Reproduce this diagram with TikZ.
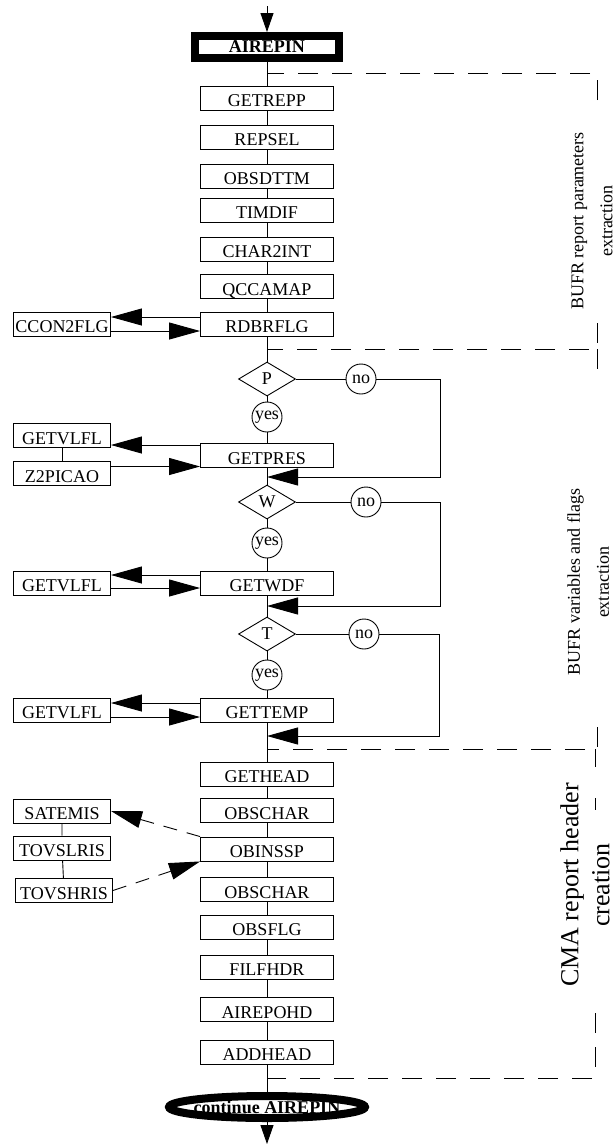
\documentclass[tikz,border=0pt]{standalone}
\usepackage{fontspec}
\setmainfont{Liberation Serif}
\usetikzlibrary{arrows.meta,shapes.geometric}
\tikzset{proc/.style={draw,fill=white,minimum width=133pt,minimum height=24pt,inner sep=0pt,text height=17pt,text depth=0pt},}
\tikzset{side/.style={proc,minimum width=97pt},}
\tikzset{test/.style={draw,fill=white,diamond,minimum width=57pt,minimum height=34pt,inner sep=0pt},}
\tikzset{ans/.style={draw,fill=white,circle,minimum size=30pt,inner sep=0pt},}
\tikzset{term/.style={draw,line width=8pt,inner sep=0pt,font=\bfseries\fontsize{18}{20}\selectfont},}
\tikzset{grp/.style={dash pattern=on 20pt off 14pt},}
\tikzset{grplabel/.style={rotate=90,align=center},}
\tikzset{bigtip/.style={->,>={Triangle[length=31pt,width=17pt]}},}
\tikzset{smalltip/.style={->,>={Triangle[length=19pt,width=13pt]}},}

\begin{document}
\begin{tikzpicture}[x=1pt,y=-1pt,line width=0.9pt,font=\fontsize{18}{20}\selectfont]
\useasboundingbox (0,0) rectangle (614,1144);
% dashed frames
\draw[grp] (597,100) |- (267,73);
\draw[grp] (597,323) |- (267,349);
\draw[grp] (597,349) -- (597,372);
\draw[grp] (597,727) |- (267,749);
\draw[grp] (595,749) -- (595,767);
\draw[grp] (595,798) -- (595,810);
\draw[grp] (595,1013) |- (267,1078);
\node[grplabel,font=\fontsize{18}{29}\selectfont] (bufrpar) at (592,221) {BUFR report parameters\\extraction};
\node[grplabel,font=\fontsize{18}{29}\selectfont] (bufrvar) at (588,582) {BUFR variables and flags\\extraction};
\node[grplabel,font=\fontsize{26}{31}\selectfont] (cmahead) at (585,885) {CMA report header\\creation};

% main column
\coordinate (entry) at (267,6);
\coordinate (exit) at (267,1144);
\node[term,minimum width=144pt,minimum height=22pt] (airepin) at (267,47) {AIREPIN};
\node[proc] (getrepp) at (267,98) {GETREPP};
\node[proc] (repsel) at (267,137) {REPSEL};
\node[proc] (obsdttm) at (267,176) {OBSDTTM};
\node[proc] (timdif) at (267,210) {TIMDIF};
\node[proc] (char2int) at (267,249) {CHAR2INT};
\node[proc] (qccamap) at (267,286.5) {QCCAMAP};
\node[proc] (rdbrflg) at (267,324) {RDBRFLG};
\node[test] (ptest) at (267,379) {P};
\node[ans] (pno) at (361,379) {no};
\node[ans] (pyes) at (267,417) {yes};
\node[proc] (getpres) at (267,455.5) {GETPRES};
\node[test] (wtest) at (267,502) {W};
\node[ans] (wno) at (366,502) {no};
\node[ans] (wyes) at (267,543) {yes};
\node[proc] (getwdf) at (267,583) {GETWDF};
\node[test] (ttest) at (267,634) {T};
\node[ans] (tno) at (364,634) {no};
\node[ans] (tyes) at (267,675) {yes};
\node[proc] (gettemp) at (267,710) {GETTEMP};
\node[proc] (gethead) at (267,774) {GETHEAD};
\node[proc] (obschar) at (267,810.5) {OBSCHAR};
\node[proc] (obinssp) at (267,849) {OBINSSP};
\node[proc] (obschara) at (267,889.5) {OBSCHAR};
\node[proc] (obsflg) at (267,927) {OBSFLG};
\node[proc] (filfhdr) at (267,967) {FILFHDR};
\node[proc] (airepohd) at (267,1009.5) {AIREPOHD};
\node[proc] (addhead) at (267,1052) {ADDHEAD};
\node[term,ellipse,inner xsep=-4pt,minimum height=22pt] (cont) at (267,1107) {continue AIREPIN};

% called routines
\node[side] (ccon2flg) at (62,324) {CCON2FLG};
\node[side] (vlfla) at (62,435.5) {GETVLFL};
\node[side] (z2picao) at (62,473.5) {Z2PICAO};
\node[side] (vlflb) at (62,583) {GETVLFL};
\node[side] (vlflc) at (62,710) {GETVLFL};
\node[side] (satemis) at (62,811) {SATEMIS};
\node[side] (tovslris) at (62,848) {TOVSLRIS};
\node[side] (tovshris) at (64,890.5) {TOVSHRIS};

% flow
\draw[smalltip] (entry) -- (airepin);
\draw (airepin) -- (getrepp) -- (repsel) -- (obsdttm) -- (timdif) -- (char2int) -- (qccamap) -- (rdbrflg) -- (ptest) -- (pyes) -- (getpres) -- (wtest) -- (wyes) -- (getwdf) -- (ttest) -- (tyes) -- (gettemp) -- (gethead) -- (obschar) -- (obinssp) -- (obschara) -- (obsflg) -- (filfhdr) -- (airepohd) -- (addhead) -- (cont);
\draw[smalltip] (cont) -- (exit);

% no branches
\coordinate (pturn) at (440,477);
\coordinate (pret) at (267,477);
\coordinate (wturn) at (440,606);
\coordinate (wret) at (267,606);
\coordinate (tturn) at (439,736);
\coordinate (tret) at (267,736);
\draw (ptest) -- (pno);
\draw[bigtip] (pno) -| (pturn) -- (pret);
\draw (wtest) -- (wno);
\draw[bigtip] (wno) -| (wturn) -- (wret);
\draw (ttest) -- (tno);
\draw[bigtip] (tno) -| (tturn) -- (tret);

% calls
\draw[bigtip] ([yshift=7pt]rdbrflg.west) -- ([yshift=7pt]ccon2flg.east);
\draw[bigtip] ([yshift=-7pt]ccon2flg.east) -- ([yshift=-7pt]rdbrflg.west);
\draw (vlfla) -- (z2picao);
\draw[bigtip] ([yshift=10.5pt]getpres.west) -- ([yshift=-9.5pt]vlfla.east);
\draw[bigtip] ([yshift=7pt]z2picao.east) -- ([yshift=-11pt]getpres.west);
\draw[bigtip] ([yshift=8pt]getwdf.west) -- ([yshift=8pt]vlflb.east);
\draw[bigtip] ([yshift=-5pt]vlflb.east) -- ([yshift=-5pt]getwdf.west);
\draw[bigtip] ([yshift=7pt]gettemp.west) -- ([yshift=7pt]vlflc.east);
\draw[bigtip] ([yshift=-7pt]vlflc.east) -- ([yshift=-7pt]gettemp.west);
\draw (satemis) -- (tovslris) -- (tovshris);
\draw[bigtip,dash pattern=on 14pt off 10pt] (obinssp.north west) -- (satemis.east);
\draw[bigtip,dash pattern=on 14pt off 10pt] (tovshris.east) -- (obinssp.south west);
\end{tikzpicture}
\end{document}
